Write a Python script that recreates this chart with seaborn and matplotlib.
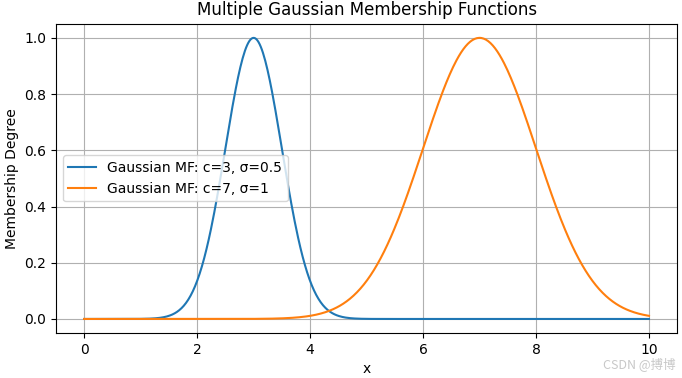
import numpy as np
import pandas as pd
import matplotlib
matplotlib.use("Agg")
import matplotlib.pyplot as plt
import seaborn as sns

centers = [3, 7]
sigmas = [0.5, 1]
labels = ["Gaussian MF: c=3, σ=0.5", "Gaussian MF: c=7, σ=1"]
x_range = (0, 10)
colors = ["#1f77b4", "#ff7f0e"]

x = np.linspace(x_range[0], x_range[1], 500)
frames = []
for c, s, lab in zip(centers, sigmas, labels):
    frames.append(pd.DataFrame({"x": x, "y": np.exp(-((x - c) ** 2) / (2 * s ** 2)), "label": lab}))
df = pd.concat(frames, ignore_index=True)

plt.rcParams["font.family"] = ["DejaVu Sans", "Noto Sans CJK SC"]
fig = plt.figure(figsize=(6.82, 3.78), dpi=100)
ax = fig.add_axes([0.082, 0.119, 0.911, 0.818])
sns.lineplot(data=df, x="x", y="y", hue="label", palette=colors, ax=ax, linewidth=1.5)
ax.set_title("Multiple Gaussian Membership Functions")
ax.set_xlabel("x")
ax.set_ylabel("Membership Degree")
ax.grid(True)
ax.legend(loc="center left", title=None)
fig.text(0.99, 0.018, "CSDN @搏博", ha="right", va="bottom", color="#c8c8c8", fontsize=9,
         family=["Noto Sans CJK SC", "DejaVu Sans"])
fig.savefig("out.png", dpi=100)
